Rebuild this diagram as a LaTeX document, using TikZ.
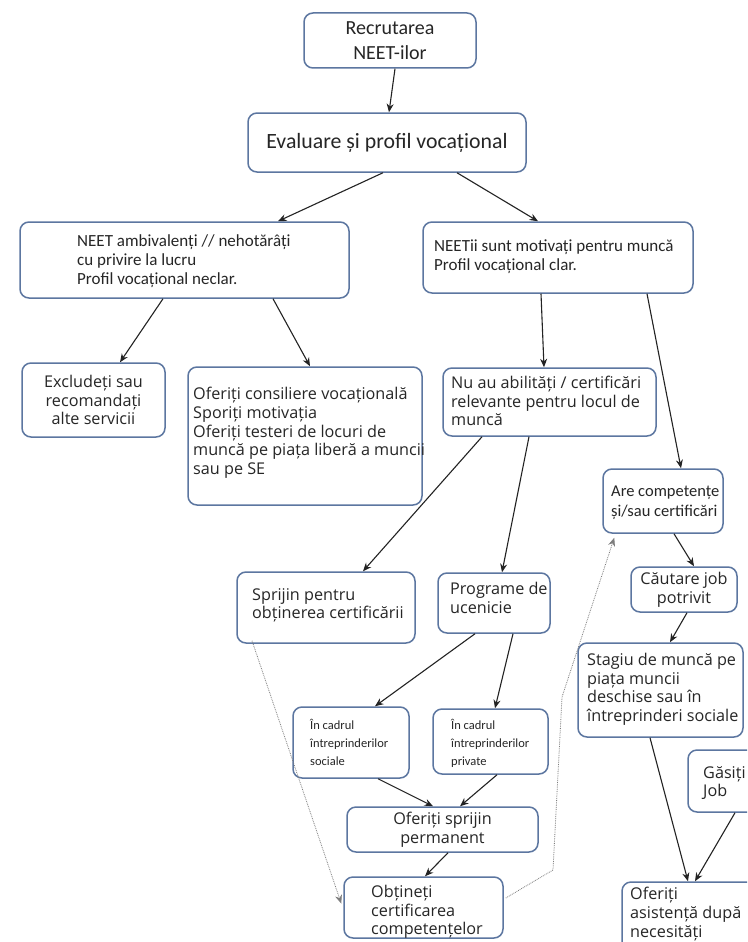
\documentclass[tikz,border=0pt]{standalone}
\usepackage{fontspec}
\setmainfont{Carlito}
\newfontfamily\fcal{Carlito}
\newfontfamily\fos{Open Sans}
\usetikzlibrary{arrows.meta,calc}
\definecolor{boxc}{RGB}{92,118,160}
\definecolor{linec}{RGB}{35,35,35}
\definecolor{dotc}{RGB}{125,125,125}

\begin{document}
\begin{tikzpicture}[x=1pt,y=-1pt,
  box/.style={draw=boxc, line width=1.5pt, rounded corners=9pt, fill=white, inner sep=0pt},
  txt/.style={anchor=north west, inner sep=0pt, align=left, text=black!85},
  ctr/.style={align=center, text=black!85},
  calA/.style={font={\fcal\fontsize{17}{19}\selectfont}},
  calS/.style={font={\fcal\fontsize{16.5}{20}\selectfont}},
  calT/.style={font={\fcal\fontsize{12.5}{18}\selectfont}},
  osA/.style={font={\fos\fontsize{16.2}{18.7}\selectfont}},
  arr/.style={draw=linec, line width=1.1pt, -{Stealth[length=8.5pt,width=7pt]}},
  dotarr/.style={draw=dotc, line width=0.8pt, densely dotted, -{Stealth[length=8.5pt,width=7pt]}},
]
\useasboundingbox (0,0) rectangle (747,942);
\fill[white] (0,0) rectangle (747,942);
\clip (0,0) rectangle (747,942);

% ---------- boxes ----------
\node[box, ctr, minimum width=172pt, minimum height=55pt,
      font={\fcal\fontsize{20}{24.5}\selectfont}] (rec) at (390,40.5) {Recrutarea\\NEET-ilor};
\node[box, ctr, minimum width=278pt, minimum height=59pt,
      font={\fcal\fontsize{21.8}{26}\selectfont}] (eval) at (387,142.5) {Evaluare și profil vocațional};

\node[box, minimum width=329pt, minimum height=76pt] (amb) at (184.5,260) {};
\node[txt, calA] (amb-t) at (77,234) {NEET ambivalenți // nehotărâți\\cu privire la lucru\\Profil vocațional neclar.};

\node[box, minimum width=270pt, minimum height=71pt] (mot) at (558,257.5) {};
\node[txt, calA] (mot-t) at (434,240) {NEETii sunt motivați pentru muncă\\Profil vocațional clar.};

\node[box, ctr, osA, minimum width=143pt, minimum height=74pt] (excl) at (93.5,400) {Excludeți sau\\recomandați\\alte servicii};

\node[box, minimum width=234pt, minimum height=138pt] (cons) at (305,436) {};
\node[txt, osA] (cons-t) at (193,387) {Oferiți consiliere vocațională\\Sporiți motivația\\Oferiți testeri de locuri de\\muncă pe piața liberă a muncii\\sau pe SE};

\node[box, minimum width=213pt, minimum height=68pt] (nuau) at (549.5,402) {};
\node[txt, osA] (nuau-t) at (451,376) {Nu au abilități / certificări\\relevante pentru locul de\\muncă};

\node[box, minimum width=120pt, minimum height=64pt] (arec) at (663,501) {};
\node[txt, calS] (arec-t) at (611,486) {Are competențe\\și/sau certificări};

\node[box, ctr, osA, minimum width=106pt, minimum height=45pt] (caut) at (684,589.5) {Căutare job\\potrivit};

\node[box, minimum width=178pt, minimum height=71pt] (spr) at (326,607.5) {};
\node[txt, osA] (spr-t) at (252,588) {Sprijin pentru\\obținerea certificării};

\node[box, minimum width=112pt, minimum height=60pt] (prog) at (494,603) {};
\node[txt, osA] (prog-t) at (450,582) {Programe de\\ucenicie};

\node[box, minimum width=116pt, minimum height=71pt] (soc) at (351,742.5) {};
\node[txt, calT] (soc-t) at (310,719) {În cadrul\\întreprinderilor\\sociale};

\node[box, minimum width=115pt, minimum height=65pt] (priv) at (490.5,741.5) {};
\node[txt, calT] (priv-t) at (451,719) {În cadrul\\întreprinderilor\\private};

\node[box, ctr, osA, minimum width=191pt, minimum height=45pt] (perm) at (442.5,829.5) {Oferiți sprijin\\permanent};

\node[box, minimum width=159pt, minimum height=61pt] (obt) at (423.5,907.5) {};
\node[txt, osA] (obt-t) at (371,885) {Obțineți\\certificarea\\competențelor};

\node[box, minimum width=165pt, minimum height=94pt] (stag) at (660.5,690) {};
\node[txt, osA] (stag-t) at (587,653) {Stagiu de muncă pe\\piața muncii\\deschise sau în\\întreprinderi sociale};

\node[box, minimum width=72pt, minimum height=62pt] (gas) at (724,781) {};
\node[txt, osA] (gas-t) at (703,766) {Găsiți\\Job};

\node[box, minimum width=148pt, minimum height=68pt] (asis) at (696,916) {};
\node[txt, osA] (asis-t) at (630,887) {Oferiți\\asistență după\\necesități};

% ---------- connectors ----------
\draw[arr] ($(rec.south)+(5,0)$) -- ($(eval.north)+(2,0)$);
\draw[arr] ($(eval.south)+(-4,0)$) -- ($(amb.north)+(93.5,0)$);
\draw[arr] ($(eval.south)+(70,0)$) -- ($(mot.north)+(-20,0)$);
\draw[arr] ($(amb.south)+(-21.5,0)$) -- ($(excl.north)+(26.5,0)$);
\draw[arr] ($(amb.south)+(88.5,0)$) -- ($(cons.north)+(5,0)$);
\draw[arr] ($(mot.south)+(-17,0)$) -- ($(nuau.north)+(-5.5,0)$);
\draw[arr] ($(mot.south)+(89,0)$) -- ($(arec.north)+(18,0)$);
\draw[arr] ($(nuau.south)+(-67.5,0)$) -- ($(spr.north)+(37,0)$);
\draw[arr] ($(nuau.south)+(-20.5,0)$) -- ($(prog.north)+(8,0)$);
\draw[arr] ($(arec.south)+(11,0)$) -- ($(caut.north)+(10,0)$);
\draw[arr] ($(caut.south)+(3,0)$) -- ($(stag.north)+(9.5,0)$);
\draw[arr] ($(prog.south)+(-19,0)$) -- ($(soc.north)+(24,0)$);
\draw[arr] ($(prog.south)+(19,0)$) -- ($(priv.north)+(4.5,0)$);
\draw[arr] ($(soc.south)+(27,0)$) -- ($(perm.north)+(-9.5,0)$);
\draw[arr] ($(priv.south)+(6.5,0)$) -- ($(perm.north)+(17.5,0)$);
\draw[arr] ($(perm.south)+(5.5,0)$) -- ($(obt.north)+(1.5,0)$);
\draw[arr] ($(stag.south)+(-10.5,0)$) -- ($(asis.north)+(-8,0)$);
\draw[arr] ($(gas.south)+(11,0)$) -- ($(asis.north)+(-1,0)$);

% dotted certification paths
\coordinate (k1) at (553,870);
\coordinate (k2) at (562,697);
\draw[dotarr] ($(spr.south)+(-74,-3)$) -- ($(obt.west)+(-2,-4)$);
\draw[dotarr] ($(obt.east)+(2,-9.5)$) -- (k1) -- (k2) -- ($(arec.south west)+(12,4)$);
\end{tikzpicture}
\end{document}
